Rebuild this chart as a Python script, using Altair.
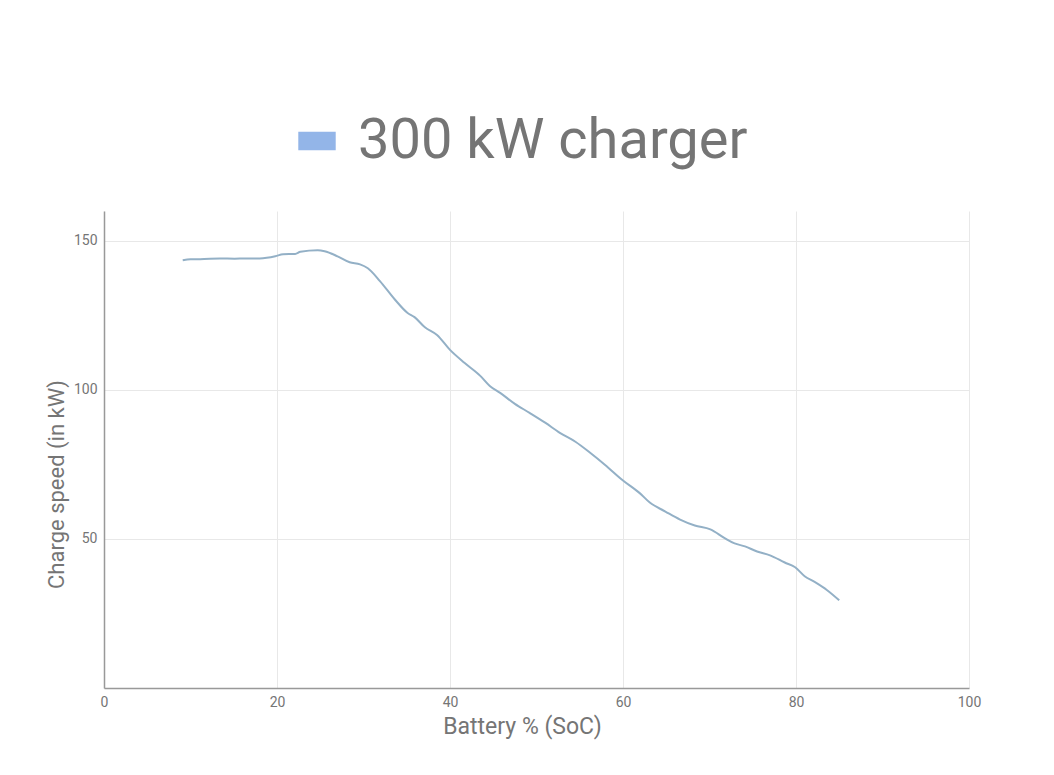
import altair as alt
import pandas as pd

soc = [9.1, 10.0, 11.1, 13.4, 15.1, 16.3, 18.0, 19.8, 20.7, 22.1, 22.7, 24.7, 25.5, 27.0, 28.4, 29.6, 30.5,
       31.9, 33.6, 35.1, 35.9, 37.1, 38.5, 40.0, 41.7, 43.5, 44.6, 45.8, 47.5, 49.2, 51.0, 52.7, 54.5,
       56.2, 57.9, 60.0, 62.0, 63.1, 64.9, 66.6, 68.3, 70.1, 71.8, 72.9, 74.1, 75.5, 77.0, 78.7, 79.9,
       81.0, 82.2, 83.6, 85.0]
kw = [143.5, 143.8, 143.8, 144.1, 144.0, 144.1, 144.1, 144.8, 145.5, 145.6, 146.3, 146.8, 146.5, 144.8,
      142.8, 142.1, 140.8, 136.5, 130.4, 125.8, 124.4, 121.0, 118.4, 113.4, 109.0, 104.7, 101.3, 99.0,
      95.3, 92.3, 89.0, 85.6, 82.6, 78.9, 74.9, 69.6, 65.2, 62.2, 59.2, 56.5, 54.5, 53.2, 50.2, 48.5,
      47.5, 45.8, 44.5, 42.1, 40.5, 37.5, 35.5, 32.8, 29.4]
series = "300 kW charger"

df = pd.DataFrame({"soc": soc, "kw": kw, "series": [series] * len(soc)})

FONT = "Roboto"
GREY = "#757575"

chart = alt.Chart(df).mark_line(strokeWidth=2, interpolate="monotone").encode(
    x=alt.X("soc:Q", scale=alt.Scale(domain=[0, 100], nice=False),
            axis=alt.Axis(title="Battery % (SoC)", values=[0, 20, 40, 60, 80, 100],
                          titleX=418, titleAlign="center", labelFlush=False)),
    y=alt.Y("kw:Q", scale=alt.Scale(domain=[0, 160], nice=False),
            axis=alt.Axis(title="Charge speed (in kW)", values=[50, 100, 150],
                          titleY=273, titleAlign="center", titleFontSize=22)),
    color=alt.Color("series:N", scale=alt.Scale(range=["#93b0c6"]),
                    legend=alt.Legend(title=None, orient="none", legendX=185, legendY=-98,
                                      symbolType="M-1,-0.5H1V0.5H-1Z", symbolSize=1400,
                                      symbolStrokeWidth=0,
                                      symbolFillColor="#93b5e8", symbolStrokeColor="#93b5e8",
                                      labelFontSize=56, labelFont=FONT, labelColor=GREY,
                                      labelOffset=13, labelLimit=800)),
).properties(
    width=865, height=477,
    autosize=alt.AutoSizeParams(type="none"),
    padding={"left": 96, "top": 203, "right": 77, "bottom": 70},
).configure_view(stroke=None).configure_axis(
    labelFont=FONT, labelFontSize=14, labelColor=GREY,
    titleFont=FONT, titleFontSize=23, titleFontWeight="normal", titleColor=GREY,
    gridColor="#e8e8e8", gridWidth=1,
    domainColor="#999999", domainWidth=1.5,
    ticks=False, labelPadding=7,
).configure_axisY(titlePadding=5).configure_axisX(titlePadding=6)

chart.save("out.html", embed_options={"renderer": "svg", "actions": False})
